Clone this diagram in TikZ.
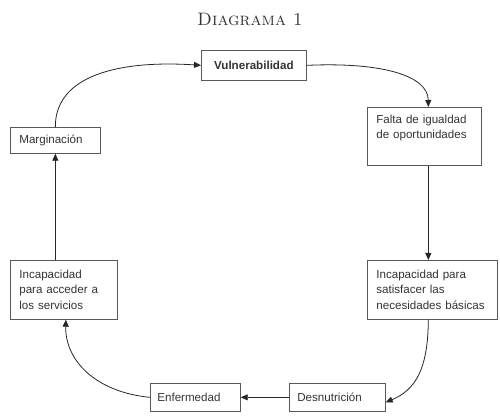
\documentclass[tikz,border=0pt]{standalone}
\usepackage{fontspec}
\newfontfamily\arialfont{Liberation Sans}
\usetikzlibrary{arrows.meta}
\begin{document}
\begin{tikzpicture}[x=1pt,y=-1pt,
  box/.style={draw=black!65, line width=0.7pt, rectangle, inner xsep=9pt, inner ysep=2pt,
    align=left, text=black!80, font=\arialfont\fontsize{11.6}{15.5}\selectfont, anchor=north west},
  conn/.style={draw=black!85, line width=0.8pt, -{Triangle[length=7pt,width=6pt]}}]
\useasboundingbox (0,0) rectangle (500,419);
\node[text=black!80] (title) at (250,19) {\fontsize{18}{18}\selectfont\textsc{Diagrama 1}};
\node[box, text width=87pt, minimum height=30pt, font=\arialfont\bfseries\fontsize{11.6}{14}\selectfont, align=center] (vul) at (201,50) {Vulnerabilidad};
\node[box, text width=96pt, minimum height=58pt] (fal) at (367,107) {Falta de igualdad\\de oportunidades\\[4pt]\mbox{}};
\node[box, text width=72pt, minimum height=26pt] (mar) at (10,127) {Marginación};
\node[box, text width=89pt, minimum height=59pt] (acc) at (10,260) {Incapacidad\\para acceder a\\los servicios};
\node[box, text width=112pt, minimum height=59pt] (sat) at (367,260) {Incapacidad para\\satisfacer las\\necesidades básicas};
\node[box, inner xsep=7pt, text width=76pt, minimum height=28pt] (enf) at (150,383) {Enfermedad};
\node[box, inner xsep=8pt, text width=80pt, minimum height=28pt] (des) at (289,383) {Desnutrición};
\draw[conn] (mar.north) .. controls (55,75) and (120,60) .. (vul.west);
\draw[conn] (vul.east) .. controls (380,62) and (428,75) .. ([xshift=4pt]fal.north);
\draw[conn] ([xshift=4pt]fal.south) -- ([xshift=-4pt]sat.north);
\draw[conn] ([xshift=-4pt]sat.south) .. controls (428,370) and (415,390) .. ([yshift=-5pt]des.east);
\draw[conn] (des.west) -- (enf.east);
\draw[conn] (enf.west) .. controls (95,392) and (65,360) .. ([xshift=2pt]acc.south);
\draw[conn] ([xshift=-8.5pt]acc.north) -- (mar.south);
\end{tikzpicture}
\end{document}
